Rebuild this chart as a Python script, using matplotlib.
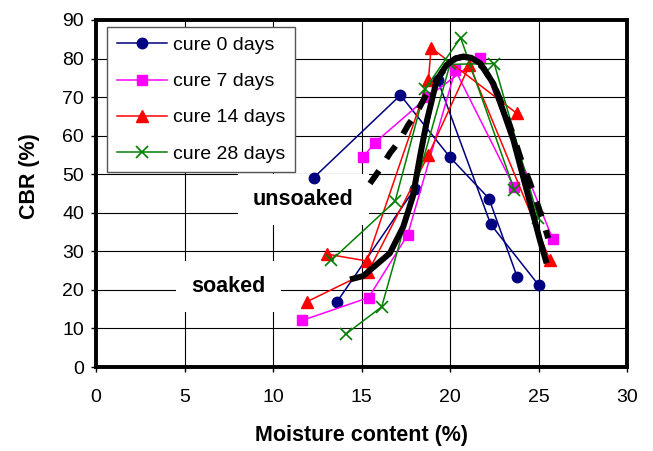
import matplotlib
matplotlib.use("Agg")
import matplotlib.pyplot as plt

plt.rcParams['font.family'] = ['Liberation Sans', 'DejaVu Sans']

# ---- data ----
series_labels = ["cure 0 days", "cure 7 days", "cure 14 days", "cure 28 days"]

# unsoaked tests
c0_uns_x = [12.3, 17.2, 20.0, 22.2, 23.8]
c0_uns_y = [49.1, 70.5, 54.4, 43.7, 23.3]
c7_uns_x = [15.1, 15.76, 18.7, 21.7, 25.8]
c7_uns_y = [54.5, 58.2, 69.9, 80.2, 33.2]
c14_uns_x = [13.03, 15.3, 18.78, 18.93, 23.77]
c14_uns_y = [29.3, 27.5, 74.4, 82.8, 65.8]
c28_uns_x = [13.3, 16.9, 18.6, 20.6, 23.63]
c28_uns_y = [27.7, 43.0, 72.2, 85.4, 45.9]

# soaked tests
c0_soak_x = [13.6, 18.0, 19.3, 22.3, 25.0]
c0_soak_y = [16.8, 46.2, 74.5, 37.0, 21.3]
c7_soak_x = [11.66, 15.4, 17.6, 20.3, 23.6]
c7_soak_y = [12.1, 18.0, 34.2, 77.0, 46.8]
c14_soak_x = [11.9, 15.38, 18.78, 21.1, 25.65]
c14_soak_y = [16.9, 24.7, 55.0, 78.3, 27.7]
c28_soak_x = [14.1, 16.14, 20.0, 22.5, 24.99]
c28_soak_y = [8.5, 15.6, 78.5, 78.7, 38.6]

# trend curves
soak_curve_x = [14.35, 15.1, 15.5, 16.6, 17.36, 17.9, 18.3, 18.7, 19.25, 19.8,
                20.3, 20.75, 21.2, 21.7, 22.45, 23.0, 23.58, 24.33, 25.08, 25.46]
soak_curve_y = [22.7, 23.6, 25.2, 29.5, 36.4, 44.2, 54.5, 64.0, 74.4, 78.3,
                80.0, 80.5, 80.2, 78.8, 73.5, 66.5, 58.9, 45.9, 32.9, 26.9]
uns_curve_x = [15.48, 16.0, 16.6, 17.1, 17.64, 18.1, 18.7, 19.25, 19.8, 20.3,
               20.75, 21.3, 21.9, 22.5, 23.0, 23.58, 24.0, 24.5, 25.0, 25.55]
uns_curve_y = [47.6, 51.0, 55.4, 58.4, 62.8, 65.8, 71.0, 74.4, 78.0, 80.0,
               80.5, 80.0, 77.5, 73.0, 67.5, 60.0, 54.0, 48.0, 41.5, 33.4]

x_ticks = [0, 5, 10, 15, 20, 25, 30]
y_ticks = [0, 10, 20, 30, 40, 50, 60, 70, 80, 90]

# ---- styles ----
styles = [
    dict(color='#000080', marker='o', markersize=7.5, markerfacecolor='#000080', markeredgecolor='#000080'),
    dict(color='#FF00FF', marker='s', markersize=7, markerfacecolor='#FF00FF', markeredgecolor='#FF00FF'),
    dict(color='#FF0000', marker='^', markersize=8.5, markerfacecolor='#FF0000', markeredgecolor='#FF0000'),
    dict(color='#008000', marker='x', markersize=8, markeredgewidth=1.2, markeredgecolor='#008000'),
]

fig = plt.figure(figsize=(6.53, 4.51), dpi=100)
ax = fig.add_axes([96/653, 1-367/451, 531/653, 347/451])

uns = [(c0_uns_x, c0_uns_y), (c7_uns_x, c7_uns_y), (c14_uns_x, c14_uns_y), (c28_uns_x, c28_uns_y)]
soak = [(c0_soak_x, c0_soak_y), (c7_soak_x, c7_soak_y), (c14_soak_x, c14_soak_y), (c28_soak_x, c28_soak_y)]

for (ux, uy), (sx, sy), st, lab in zip(uns, soak, styles, series_labels):
    ax.plot(ux, uy, lw=1.1, label=lab, zorder=4, **st)
    ax.plot(sx, sy, lw=1.1, zorder=4, **st)

ax.plot(soak_curve_x, soak_curve_y, color='black', lw=4.3, solid_capstyle='butt', zorder=6)
ax.plot(uns_curve_x, uns_curve_y, color='black', lw=4.3, dashes=(2.6, 2.4),
        dash_capstyle='butt', zorder=6)

ax.set_xlim(0, 30)
ax.set_ylim(0, 90)
ax.set_xticks(x_ticks)
ax.set_yticks(y_ticks)
ax.tick_params(axis='both', direction='out', length=3.6, width=1, labelsize=14)
ax.tick_params(axis='x', pad=12)
ax.tick_params(axis='y', pad=5)
ax.grid(True, color='black', lw=0.8, zorder=0)
ax.set_axisbelow(True)
for s in ax.spines.values():
    s.set_linewidth(2.8)
    s.set_color('black')

ax.set_xlabel('Moisture content (%)', fontsize=15.5, fontweight='bold', labelpad=14)
ax.set_ylabel('CBR (%)', fontsize=15.5, fontweight='bold')
ax.yaxis.set_label_coords(-0.105, 0.55)

bb = dict(facecolor='white', edgecolor='none', pad=11)
ax.text(11.72, 43.4, 'unsoaked', fontsize=15.5, fontweight='bold', ha='center', va='center',
        bbox=bb, zorder=2)
ax.text(7.49, 20.9, 'soaked', fontsize=15.5, fontweight='bold', ha='center', va='center',
        bbox=bb, zorder=2)

leg = ax.legend(loc='upper left', bbox_to_anchor=(0.0207, 0.98), borderaxespad=0,
                fontsize=14, frameon=True, fancybox=False, framealpha=1,
                edgecolor='#555555', handlelength=2.6, handletextpad=0.3,
                labelspacing=0.95, borderpad=0.5)
leg.get_frame().set_linewidth(1.0)
leg.set_zorder(10)

fig.savefig('out.png', dpi=100)
